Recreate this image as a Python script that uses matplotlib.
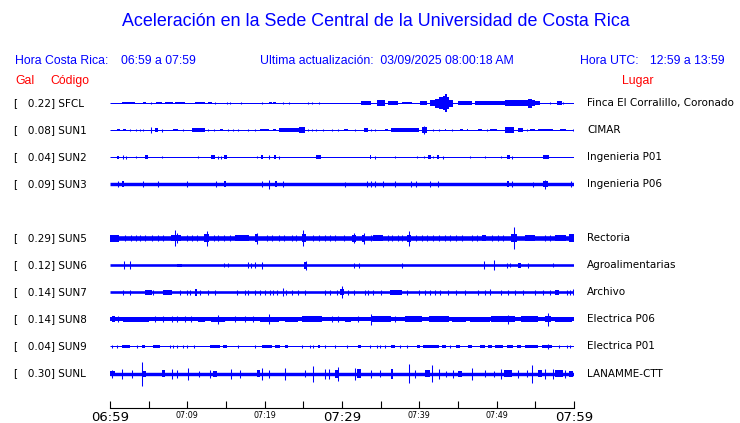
import matplotlib
matplotlib.use("Agg")
import matplotlib.pyplot as plt
from matplotlib.transforms import blended_transform_factory

# station table
codes = ["SFCL", "SUN1", "SUN2", "SUN3", "SUN5", "SUN6", "SUN7", "SUN8", "SUN9", "SUNL"]
gal = [0.22, 0.08, 0.04, 0.09, 0.29, 0.12, 0.14, 0.14, 0.04, 0.30]
places = ["Finca El Corralillo, Coronado", "CIMAR", "Ingenieria P01", "Ingenieria P06",
          "Rectoria", "Agroalimentarias", "Archivo", "Electrica P06", "Electrica P01",
          "LANAMME-CTT"]

# background noise half-height of each trace (pixels of the original plot)
noise = [0.5, 0.5, 0.5, 1.7, 2.3, 1.3, 1.3, 2.0, 0.5, 1.7]

# bursts: (minute, amp) for a spike, (start, end, amp) for a block
# minutes counted from 06:59, amp = half-height in pixels
sfcl_ev = [(1.5, 3.2, 1.4), (4.3, 4.7, 1.4), (5.3, 1), (6.0, 6.7, 1.4), (7.1, 8.2, 1.4),
           (8.4, 9.7, 1.4), (11.0, 12.3, 1.4), (12.7, 13.2, 1.4), (13.6, 1.2), (15.1, 1.2),
           (15.5, 1.2), (17.0, 1), (19.6, 1), (20.5, 20.9, 1.4), (21.1, 21.5, 1.4), (22.4, 1),
           (23.1, 1), (25.6, 1), (26.1, 1), (27.0, 1), (32.5, 33.8, 1.8), (34.5, 35.6, 2.6),
           (36.0, 37.3, 1.8), (37.7, 39.0, 1.4), (40.1, 41.0, 2), (41.4, 42.0, 3),
           (42.0, 42.6, 4.5), (42.6, 43.0, 6), (43.0, 43.3, 7), (43.3, 43.6, 9),
           (43.6, 43.9, 6), (43.9, 44.4, 3.5), (45.0, 46.8, 2.2), (47.2, 51.1, 1.6),
           (51.1, 52.8, 2.6), (52.8, 54.0, 3.2), (54.0, 54.6, 4.5), (54.6, 55.0, 3),
           (55.0, 55.6, 2), (56.9, 1), (57.8, 58.4, 2), (58.6, 1)]
sun1_ev = [(0.9, 1.3, 1.2), (1.7, 2.1, 1.4), (2.6, 1.2), (3.4, 1.2), (3.9, 1.2), (4.3, 1.2),
           (5.3, 3), (5.8, 6.2, 2.2), (6.7, 1.5), (8.2, 8.8, 1.4), (9.5, 1.2),
           (10.6, 12.3, 1.6), (12.7, 1.2), (13.4, 1.2), (14.2, 14.6, 1.4), (15.3, 1.2),
           (15.9, 1.2), (16.6, 1.2), (17.9, 1.2), (18.7, 1.2), (19.4, 20.5, 1.4),
           (21.1, 21.5, 1.4), (21.8, 24.4, 1.7), (24.4, 25.2, 2.6), (25.6, 1.2), (26.1, 1.2),
           (26.7, 1.2), (27.6, 1.2), (28.7, 1.2), (29.5, 1.2), (30.2, 30.8, 1.4), (31.7, 1.2),
           (32.8, 33.4, 1.6), (33.8, 1.2), (34.3, 1.2), (35.6, 36.0, 1.4), (36.4, 39.9, 1.6),
           (40.3, 41.0, 2.6), (40.6, 4), (41.8, 1.2), (42.5, 1.2), (43.3, 43.5, 1.4), (44.2, 1.2),
           (45.3, 45.7, 1.4), (46.1, 46.3, 1.4), (47.6, 48.1, 1.4), (48.7, 1.2),
           (49.1, 50.0, 1.4), (51.1, 52.2, 2.6), (52.8, 53.4, 1.8), (53.9, 1.2), (54.3, 54.9, 1.4),
           (55.4, 57.3, 1.4), (58.2, 59.0, 1.4), (59.9, 1.2)]
sun2_ev = [(0.9, 1.1, 1.5), (1.7, 2), (2.1, 1.5), (3.4, 1), (4.5, 4.9, 1.8), (6.7, 1),
           (11.4, 1), (13.1, 13.6, 2), (14.0, 1.5), (14.3, 1.5), (14.7, 15.1, 2), (19.0, 1),
           (19.5, 19.8, 1.8), (20.6, 1.8), (21.2, 21.5, 1.8), (21.8, 1.5), (26.7, 27.3, 2),
           (33.6, 33.8, 1.8), (34.3, 1.5), (36.8, 1), (39.7, 1), (40.6, 1), (41.1, 41.5, 2),
           (41.8, 1), (42.3, 42.6, 2), (43.0, 1.5), (46.6, 1), (48.5, 1), (50.6, 1),
           (51.4, 51.7, 1.8), (52.0, 1.5), (56.0, 56.2, 2), (56.3, 56.8, 2)]
sun3_ev = [(1.0, 3), (1.5, 1.8, 3.2), (4.3, 2.8), (6.25, 2.8), (10.0, 2.8), (13.7, 2.8),
           (14.8, 15.0, 2.8), (19.7, 2.8), (20.6, 4.5), (21.3, 21.6, 2.8), (22.4, 2.8),
           (30.4, 2.5), (33.2, 2.8), (33.7, 2.8), (34.3, 3), (35.3, 2.8), (36.8, 2.8),
           (38.9, 2.8), (39.6, 2.8), (41.4, 2.8), (42.4, 2.8), (51.4, 51.6, 2.8), (52.0, 3),
           (54.7, 2.5), (56.0, 56.6, 3), (56.3, 4.5), (59.6, 2.8)]
sun5_ev = [(0.0, 1.2, 3.3), (2.0, 3), (2.7, 3), (3.4, 3), (3.9, 3), (4.5, 3), (5.4, 3),
           (6.2, 3), (6.9, 3), (7.9, 9.2, 2.9), (8.4, 8), (8.7, 5), (10.0, 3), (10.6, 3),
           (11.3, 3), (12.2, 12.8, 4.2), (12.5, 7.5), (13.4, 3), (14.0, 3), (14.8, 3.2),
           (15.5, 3), (16.2, 18.0, 2.8), (18.8, 19.2, 4.2), (19.0, 5.5), (20.3, 3), (21.0, 3),
           (21.8, 3.2), (22.5, 3), (23.5, 3), (24.0, 3), (24.8, 25.3, 4.2), (25.0, 8),
           (26.2, 3), (27.0, 3), (27.8, 3), (28.5, 3), (29.1, 3.2), (30.2, 3),
           (31.3, 31.8, 3.6), (31.5, 5), (32.6, 33.0, 3.6), (32.8, 5.5), (33.7, 3),
           (34.0, 35.3, 2.9), (36.0, 3), (36.5, 3), (37.2, 3), (37.7, 3), (38.4, 38.9, 3.6),
           (38.6, 7.5), (39.6, 3.2), (40.3, 3), (41.0, 3), (41.8, 3), (42.6, 3), (43.3, 3),
           (44.0, 3), (44.8, 3), (45.5, 3), (46.8, 3), (47.4, 3), (48.1, 48.6, 3), (49.4, 3),
           (50.2, 3), (50.8, 3), (51.8, 52.6, 4), (52.2, 11), (53.6, 55.0, 2.8), (56.2, 3),
           (56.9, 3), (57.6, 59.0, 2.8), (59.3, 60.0, 4.2)]
sun6_ev = [(1.85, 4), (2.6, 4), (8.6, 9.3, 1.8), (14.7, 2), (15.3, 2), (17.9, 3), (18.2, 2.5),
           (18.7, 3), (19.7, 3.5), (25.1, 25.5, 3.5), (25.3, 4.5), (31.6, 2.5), (32.2, 2.5),
           (37.7, 2.5), (48.4, 4), (49.6, 5), (51.3, 2.5), (51.7, 2), (52.8, 53.1, 2.6),
           (54.0, 2.5), (57.3, 2)]
sun7_ev = [(1.7, 2.5), (2.6, 2.5), (4.5, 5.4, 2.6), (5.6, 2.5), (6.9, 8.0, 2.2), (9.05, 2.5),
           (9.9, 2.5), (10.3, 2.5), (11.0, 11.2, 3.2), (11.6, 2.5), (12.7, 2.5), (13.6, 2.5),
           (16.4, 2.5), (17.45, 2.5), (17.9, 2.5), (18.75, 2.5), (19.4, 2.5), (20.0, 2.5),
           (20.7, 2.5), (21.1, 2.5), (21.55, 2.5), (22.4, 4), (22.8, 2.5), (23.5, 2.5),
           (24.35, 2.5), (25.2, 2.5), (27.8, 2.5), (28.4, 2.5), (29.3, 2.5), (30.0, 6),
           (29.8, 30.3, 3), (30.8, 2.5), (31.5, 2.5), (33.0, 2.5), (33.4, 2.5), (34.05, 2.5),
           (35.1, 2.5), (36.2, 37.7, 2.2), (38.4, 2.5), (39.9, 2.5), (40.7, 2.5), (41.4, 2.5),
           (42.0, 2.5), (42.7, 2.5), (43.75, 2.5), (44.8, 2.5), (45.9, 2.5), (47.6, 2.5),
           (48.5, 2.5), (49.1, 3), (50.6, 2.5), (51.5, 2.5), (52.4, 2.5), (53.4, 2.5),
           (54.95, 2.5), (56.0, 2.5), (56.9, 2.5), (57.5, 58.0, 2.2), (59.05, 2.5),
           (59.5, 2.5), (59.9, 3)]
sun8_ev = [(0.2, 0.6, 3), (1.0, 3), (1.7, 5.0, 2.6), (5.8, 3), (6.9, 3), (8.0, 3), (8.6, 3),
           (9.7, 3), (10.5, 3), (11.4, 12.3, 2.6), (13.0, 14.9, 2.6), (14.0, 4.5), (16.2, 3),
           (17.4, 3), (18.5, 3), (19.4, 21.8, 2.6), (20.6, 5), (22.6, 24.3, 2.6),
           (24.8, 27.4, 3), (28.7, 3), (29.5, 3), (30.4, 31.2, 2.6), (32.1, 3), (33.7, 5.5),
           (33.9, 36.4, 3), (36.9, 3), (38.2, 40.3, 3), (41.2, 43.8, 3),
           (44.2, 46.0, 2.6), (46.6, 49.1, 2.6), (49.3, 52.4, 3), (51.5, 4.5), (53.2, 55.4, 3),
           (56.2, 57.0, 3), (56.7, 6.5), (57.5, 59.7, 2.6)]
sun9_ev = [(0.2, 1.5), (0.86, 1.5), (1.5, 2.6, 1.4), (3.45, 1.5), (4.1, 4.5, 1.4),
           (5.6, 6.46, 1.4), (7.75, 1.5), (8.2, 1.5), (8.6, 1.5), (9.5, 1.5), (9.9, 1.5),
           (10.8, 1.5), (12.9, 14.2, 1.4), (14.65, 15.1, 1.4), (16.6, 1.5), (18.75, 1.5),
           (19.6, 20.9, 1.4), (21.3, 22.0, 1.4), (22.6, 23.05, 1.4), (24.8, 1.5), (25.9, 1.5),
           (26.3, 1.5), (26.9, 27.15, 1.4), (27.8, 1.5), (29.1, 1.5), (30.6, 1.5),
           (32.1, 32.5, 1.4), (33.6, 1.5), (34.5, 1.5), (34.9, 1.5), (35.6, 1.5),
           (36.4, 36.85, 1.4), (37.5, 1.5), (38.4, 1.5), (39.65, 40.1, 1.4), (40.5, 42.5, 1.4),
           (42.9, 43.5, 1.4), (44.0, 1.5), (44.8, 45.3, 1.4), (46.3, 46.8, 1.4),
           (47.8, 48.5, 1.4), (48.9, 49.35, 1.4), (49.8, 50.85, 1.4), (51.3, 52.15, 1.4),
           (52.6, 53.2, 1.4), (53.7, 55.4, 1.4), (55.8, 57.1, 1.4), (56.7, 2.5), (58.0, 1.5),
           (59.05, 1.5), (59.5, 1.5)]
sunl_ev = [(0.0, 0.6, 2.5), (0.2, 4), (1.5, 5), (2.8, 4), (4.1, 12), (4.3, 4.6, 3),
           (6.7, 7.1, 3.6), (8.0, 5), (8.6, 4), (10.1, 6), (11.5, 3), (12.9, 4), (13.3, 13.8, 3),
           (15.7, 5), (16.8, 4), (19.0, 19.4, 3.6), (19.6, 6), (20.5, 4), (22.6, 6), (25.2, 3.5),
           (26.3, 8), (27.8, 5), (28.3, 5), (29.1, 29.5, 4), (29.5, 7), (31.7, 6),
           (31.9, 32.5, 4.5), (33.8, 4), (34.9, 3.5), (36.3, 36.6, 5), (38.6, 9.5), (39.4, 4),
           (40.7, 41.4, 3.6), (41.7, 8.5), (42.5, 5), (43.5, 3), (44.4, 4), (45.0, 45.5, 3),
           (46.8, 6), (48.5, 3.5), (49.6, 3), (50.6, 5), (50.9, 52.0, 3.2), (52.8, 4),
           (53.9, 3.5), (54.6, 9), (55.3, 55.8, 3.2), (56.2, 5), (57.3, 5), (57.6, 58.6, 3.2),
           (58.8, 4), (59.3, 59.9, 3)]
events = [sfcl_ev, sun1_ev, sun2_ev, sun3_ev, sun5_ev, sun6_ev, sun7_ev, sun8_ev,
          sun9_ev, sunl_ev]

tick_min = list(range(0, 61, 5))
tick_labels = ["06:59", "", "07:09", "", "07:19", "", "07:29", "", "07:39", "", "07:49", "",
               "07:59"]

BLUE = "#0000ff"
RED = "#ff0000"
W, H = 740, 423
PX = 1 / 27.05  # one pixel in row units

fig = plt.figure(figsize=(W / 100, H / 100), dpi=100)
ax = fig.add_axes([110 / W, 15 / H, 464 / W, 320 / H])
ax.set_xlim(0, 60)
ax.set_ylim(11.275, -0.555)

for i, evs in enumerate(events):
    row = i + (1 if i >= 4 else 0)
    ax.hlines(row, 0, 60, color=BLUE, lw=max(2 * noise[i], 1.0) * 0.72)
    bx, bw, bh, bb = [], [], [], []
    sx, sa = [], []
    for ev in evs:
        if len(ev) == 2:
            sx.append(ev[0])
            sa.append(ev[1])
        else:
            bx.append(ev[0])
            bw.append(ev[1] - ev[0])
            bh.append(2 * ev[2] * PX)
            bb.append(row - ev[2] * PX)
    if bx:
        ax.bar(bx, bh, width=bw, bottom=bb, align="edge", color=BLUE, linewidth=0)
    if sx:
        ax.vlines(sx, [row - a * PX for a in sa], [row + a * PX for a in sa], color=BLUE,
                  lw=0.75)

for s in ["top", "left", "right"]:
    ax.spines[s].set_visible(False)
ax.spines["bottom"].set_linewidth(0.8)
ax.set_yticks([])
ax.set_xticks(tick_min)
ax.set_xticklabels(tick_labels)
ax.tick_params(axis="x", direction="in", length=5, width=0.8, pad=2)
for k, lab in enumerate(ax.get_xticklabels()):
    lab.set_fontsize(9.5 if k % 6 == 0 else 5.8)
    lab.set_family("DejaVu Sans")

# station labels on both sides
tr = blended_transform_factory(fig.transFigure, ax.transData)
for i in range(len(codes)):
    row = i + (1 if i >= 4 else 0)
    ax.text(14 / W, row, f"[   {gal[i]:.2f}] {codes[i]}", transform=tr, fontsize=7.5,
            va="center", ha="left", family="DejaVu Sans")
    ax.text(587 / W, row, places[i], transform=tr, fontsize=7.5, va="center", ha="left",
            family="DejaVu Sans")

# header
def ftext(x, y, s, **kw):
    fig.text(x / W, 1 - y / H, s, family="Liberation Sans", va="center", **kw)

ftext(376, 22, "Aceleración en la Sede Central de la Universidad de Costa Rica",
      ha="center", fontsize=12.9, color=BLUE)
ftext(15, 61, "Hora Costa Rica:", fontsize=8.8, color=BLUE)
ftext(121, 61, "06:59 a 07:59", fontsize=8.8, color=BLUE)
ftext(260, 61, "Ultima actualización:  03/09/2025 08:00:18 AM", fontsize=8.8, color=BLUE)
ftext(580, 61, "Hora UTC:", fontsize=8.8, color=BLUE)
ftext(650, 61, "12:59 a 13:59", fontsize=8.8, color=BLUE)
ftext(15, 81, "Gal", fontsize=8.8, color=RED)
ftext(50, 81, "Código", fontsize=8.8, color=RED)
ftext(622, 81, "Lugar", fontsize=8.8, color=RED)

fig.savefig("out.png", dpi=100)
